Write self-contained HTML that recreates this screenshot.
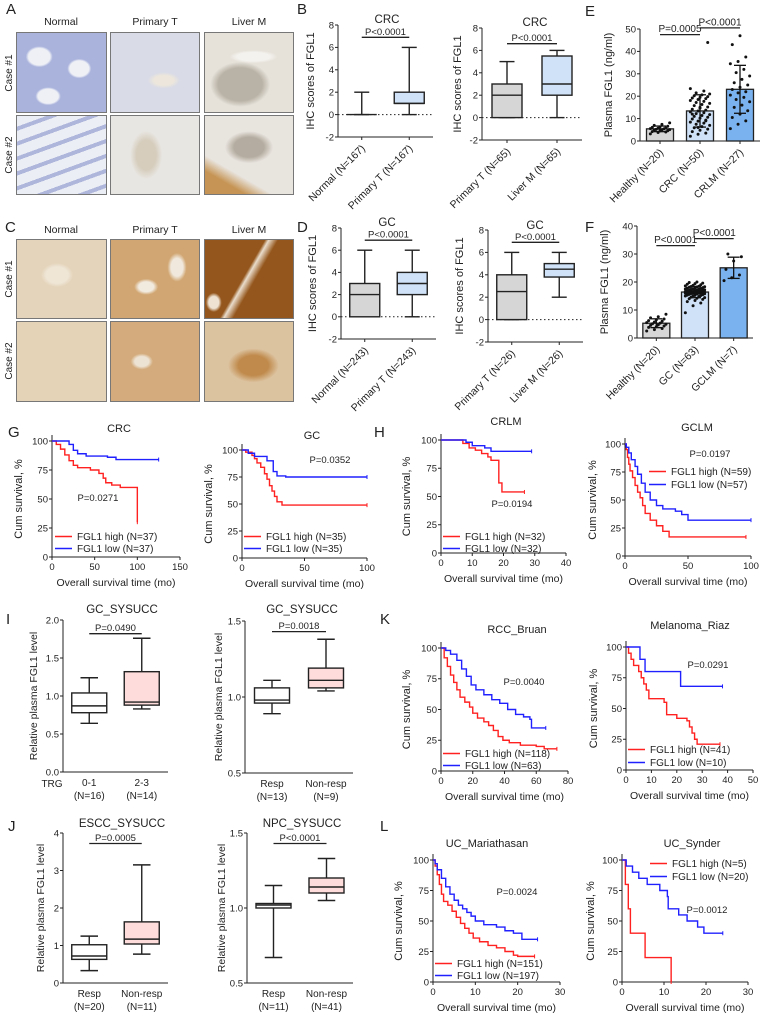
<!DOCTYPE html>
<html><head><meta charset="utf-8">
<style>
html,body{margin:0;padding:0;background:#fff;}
#wrap{position:relative;width:761px;height:1019px;overflow:hidden;font-family:"Liberation Sans",Arial,sans-serif;}
.img{position:absolute;box-sizing:border-box;border:1px solid #777;}
svg{position:absolute;left:0;top:0;}
text{font-family:"Liberation Sans",Arial,sans-serif;fill:#222;}
</style></head>
<body>
<div id="wrap">
<div class="img" style="left:16px;top:32px;width:91px;height:81px;background:radial-gradient(ellipse 18px 14px at 25% 30%,#eef0f6 60%,transparent 75%),radial-gradient(ellipse 16px 13px at 70% 45%,#eef0f6 60%,transparent 75%),radial-gradient(ellipse 17px 12px at 35% 80%,#eef0f6 60%,transparent 75%),#aab3dc;"></div>
<div class="img" style="left:110px;top:32px;width:90px;height:81px;background:radial-gradient(ellipse 20px 10px at 60% 60%,#ece6dc 50%,transparent 80%),#d9dbe6;"></div>
<div class="img" style="left:204px;top:32px;width:90px;height:81px;background:radial-gradient(ellipse 30px 8px at 55% 30%,#f4f2ee 55%,transparent 80%),radial-gradient(ellipse 40px 30px at 40% 65%,#b9b2a6 55%,transparent 75%),#e6e2da;"></div>
<div class="img" style="left:16px;top:115px;width:91px;height:80px;background:repeating-linear-gradient(160deg,#eceef5 0 10px,#aeb6dc 10px 14px),#ccd0e6;"></div>
<div class="img" style="left:110px;top:115px;width:90px;height:80px;background:radial-gradient(ellipse 20px 30px at 40% 50%,#d6cdbd 50%,transparent 80%),#e8e6e2;"></div>
<div class="img" style="left:204px;top:115px;width:90px;height:80px;background:linear-gradient(30deg,#c69556 0 18%,transparent 30%),radial-gradient(ellipse 30px 20px at 50% 40%,#b4aca0 50%,transparent 80%),#e8e4de;"></div>
<div class="img" style="left:16px;top:239px;width:91px;height:80px;background:radial-gradient(ellipse 20px 15px at 45% 45%,#efe6d6 55%,transparent 80%),#e4d4bb;"></div>
<div class="img" style="left:110px;top:239px;width:90px;height:80px;background:radial-gradient(ellipse 15px 10px at 40% 60%,#f1eadf 50%,transparent 80%),radial-gradient(ellipse 12px 18px at 75% 35%,#f0e8dc 50%,transparent 80%),#d1a672;"></div>
<div class="img" style="left:204px;top:239px;width:90px;height:80px;background:linear-gradient(120deg,transparent 45%,#e9dccb 48%,transparent 55%),radial-gradient(ellipse 10px 12px at 10% 80%,#eee2d2 50%,transparent 80%),#94561c;"></div>
<div class="img" style="left:16px;top:321px;width:91px;height:81px;background:#e4d3b7;"></div>
<div class="img" style="left:110px;top:321px;width:90px;height:81px;background:radial-gradient(ellipse 14px 10px at 35% 50%,#ede3d4 50%,transparent 80%),#d3ab7c;"></div>
<div class="img" style="left:204px;top:321px;width:90px;height:81px;background:radial-gradient(ellipse 30px 20px at 55% 55%,#c08a4c 50%,transparent 85%),#dcc3a0;"></div>
<svg id="fig" width="761" height="1019" viewBox="0 0 761 1019"></svg>
</div>
<script>
// ===== DATA =====
const b1Cats=["Normal (N=167)","Primary T (N=167)"];
const b1Boxes=[[0,0,0,0,2],[0,1,1,2,6]];
const b2Cats=["Primary T (N=65)","Liver M (N=65)"];
const b2Boxes=[[0,0,2,3,5],[0,2,3,5.5,6]];
const d1Cats=["Normal (N=243)","Primary T (N=243)"];
const d1Boxes=[[0,0,2,3,6],[0,2,3,4,6]];
const d2Cats=["Primary T (N=26)","Liver M (N=26)"];
const d2Boxes=[[0,0,2.5,4,6],[2,3.8,4.5,5,6]];
const ihcTicks=[-2,0,2,4,6,8];
const eCats=["Healthy (N=20)","CRC (N=50)","CRLM (N=27)"];
const eHealthy=[3.2,3.8,4.0,4.2,4.5,4.6,4.8,5.0,5.1,5.2,5.4,5.5,5.7,5.9,6.1,6.3,6.6,7.0,7.4,8.1];
const eCRC=[2.1,3.0,3.5,4.2,4.8,5.3,5.9,6.4,7.0,7.5,8.0,8.4,8.9,9.3,9.8,10.2,10.6,11.0,11.4,11.8,12.2,12.6,13.0,13.4,13.8,14.2,14.7,15.2,15.8,16.3,16.8,17.2,17.7,18.1,18.5,18.9,19.2,19.5,19.8,20.2,20.6,21.0,21.5,22.3,23.4,6.0,9.0,12.0,15.0,44.0];
const eCRLM=[5.5,7.5,9.0,10.5,12.0,13.5,15.0,16.0,17.5,18.5,19.5,20.5,21.5,22.0,23.0,24.0,25.0,26.0,27.5,29.0,30.5,32.0,34.5,35.5,37.5,43.0,47.0];
const eTicks=[0,10,20,30,40,50];
const fCats=["Healthy (N=20)","GC (N=63)","GCLM (N=7)"];
const fHealthy=[2.5,3.0,3.4,3.8,4.0,4.3,4.5,4.7,4.9,5.1,5.3,5.5,5.7,6.0,6.2,6.5,6.8,7.2,7.6,8.5];
const fGC=[9.0,11.5,12.5,13.0,13.4,13.8,14.0,14.2,14.4,14.6,14.8,15.0,15.1,15.2,15.3,15.4,15.5,15.6,15.7,15.8,15.9,16.0,16.0,16.1,16.1,16.2,16.2,16.3,16.3,16.4,16.4,16.5,16.5,16.6,16.6,16.7,16.8,16.9,17.0,17.0,17.1,17.2,17.3,17.4,17.5,17.6,17.7,17.8,17.9,18.0,18.1,18.2,18.3,18.4,18.5,18.6,18.8,19.0,19.2,19.4,19.6,19.8,20.0];
const fGCLM=[20.5,21.5,22.5,24.5,27.5,29.0,30.0];
const fTicks=[0,10,20,30,40];
const kmTicksY=[0,25,50,75,100];
const gCrcHigh=[[0,100],[5,97],[10,93],[15,88],[20,83],[25,79],[30,77],[45,75],[55,72],[60,68],[63,64],[70,62],[80,60],[100,30],[100,30]];
const gCrcLow=[[0,100],[20,97],[25,92],[30,89],[40,87],[65,86],[75,84],[125,84]];
const gGcHigh=[[0,100],[3,98],[8,95],[10,92],[12,88],[15,84],[18,78],[20,73],[22,67],[24,62],[26,57],[28,52],[32,49],[100,49]];
const gGcLow=[[0,100],[5,97],[10,94],[20,90],[25,80],[28,76],[35,75],[100,75]];
const hCrlmHigh=[[0,100],[7,97],[9,93],[11,91],[13,88],[15,85],[16,82],[18.5,62],[19.5,54],[26.7,54]];
const hCrlmLow=[[0,100],[8,98],[10,95],[14,93],[16,90],[29,90]];
const hGclmHigh=[[0,100],[1,95],[2,88],[3,82],[4,76],[6,70],[8,63],[10,57],[12,52],[14,45],[16,38],[20,32],[25,27],[30,22],[35,17],[96,17]];
const hGclmLow=[[0,100],[1,97],[3,92],[5,86],[8,80],[10,73],[13,65],[16,57],[20,50],[25,45],[30,42],[40,40],[45,37],[50,32],[100,32]];
const kRccHigh=[[0,100],[2,92],[4,85],[6,78],[8,72],[10,66],[12,60],[15,56],[18,52],[20,47],[23,43],[27,40],[30,37],[33,33],[36,28],[39,25],[43,23],[50,21],[60,20],[65,18],[73,18]];
const kRccLow=[[0,100],[3,98],[6,95],[10,90],[13,83],[16,77],[19,70],[22,66],[27,62],[32,58],[37,55],[42,50],[47,46],[52,44],[56,42],[57,35],[66,35]];
const kMelHigh=[[0,100],[1,95],[2,90],[3,85],[5,80],[6,75],[7,70],[8,65],[9,58],[15,55],[16,45],[20,42],[24,40],[25,35],[26,30],[27,25],[28,21],[37,21]];
const kMelLow=[[0,100],[5.5,90],[7.5,80],[21.5,68],[38,68]];
const lUcmHigh=[[0,100],[0.5,95],[1,88],[1.5,80],[2,72],[2.5,66],[3.5,63],[4.5,58],[5.5,53],[6.5,48],[7.5,44],[8.5,40],[9.5,36],[11,33],[13,30],[15,28],[17,25],[19,22],[20,21],[24,21]];
const lUcmLow=[[0,100],[0.5,97],[1,92],[2,85],[3,78],[4,72],[5,67],[6,63],[7,60],[8,57],[9,54],[10,50],[12,47],[15,45],[17,42],[19,40],[21,35],[24.7,35]];
const lSynHigh=[[0,100],[0.8,80],[1.5,60],[2,40],[5.5,20],[11.7,0],[11.7,0]];
const lSynLow=[[0,100],[1,95],[2.5,90],[4,85],[6,80],[9,75],[10.8,70],[11,60],[13.5,55],[15.5,50],[18,45],[19.5,40],[24,40]];
const iCats1=["0-1","2-3"], iN1=["(N=16)","(N=14)"];
const iBoxes1=[[0.64,0.78,0.87,1.04,1.24],[0.83,0.88,0.92,1.32,1.76]];
const iTicks1=[0,0.5,1,1.5,2];
const iCats2=["Resp","Non-resp"], iN2=["(N=13)","(N=9)"];
const iBoxes2=[[0.89,0.96,0.98,1.06,1.11],[1.04,1.06,1.11,1.19,1.38]];
const jN1=["(N=20)","(N=11)"];
const jBoxes1=[[0.33,0.63,0.72,1.02,1.25],[0.77,1.04,1.17,1.63,3.15]];
const jTicks1=[0,1,2,3,4];
const jN2=["(N=11)","(N=41)"];
const jBoxes2=[[0.67,1.0,1.02,1.03,1.15],[1.05,1.1,1.14,1.2,1.33]];
const halfTicks=[0.5,1.0,1.5];

// ===== HELPERS =====
const NS='http://www.w3.org/2000/svg';
const svg=document.getElementById('fig');
function mk(tag,attrs,name,parent){
  const el=document.createElementNS(NS,tag);
  for(const k in attrs) el.setAttribute(k,attrs[k]);
  
  
  (parent||svg).appendChild(el);
  return el;
}
function tx(x,y,s,name,size,anchor,extra){
  const a=Object.assign({x:x,y:y,'font-size':size||10,'text-anchor':anchor||'middle'},extra||{});
  const el=mk('text',a,name);
  el.textContent=s;
  return el;
}
function lin(d0,d1,r0,r1){return v=>r0+(v-d0)*(r1-r0)/(d1-d0);}
function line(x1,y1,x2,y2,name,stroke,w,extra){return mk('line',Object.assign({x1:x1,y1:y1,x2:x2,y2:y2,stroke:stroke||'#222','stroke-width':w||1},extra||{}),name);}
function yAxis(ax,ys,ticks,fmt,yTop,yBot,pre){
  line(ax,yTop,ax,yBot,pre+'-y-axis');
  ticks.forEach(t=>{line(ax-3,ys(t),ax,ys(t),pre+'-y-tick');tx(ax-4,ys(t)+3.3,fmt(t),pre+'-y-tick-label',9.5,'end');});
}
function ylab(x,y,s,pre,size){tx(x,y,s,pre+'-y-axis-title',size||11,'middle',{transform:'rotate(-90 '+x+' '+y+')'});}
function pBracket(x1,x2,y,s,pre,size){line(x1,y,x2,y,pre+'-p-bracket','#222',1.3);tx((x1+x2)/2,y-2.5,s,pre+'-p-value',size||9.5);}

function boxPanel(c){
  const ys=lin(c.dmin,c.dmax,c.yBot,c.yTop);
  const n=c.boxes.length, bw=(c.xEnd-c.ax)/n;
  const xs=i=>c.ax+bw*(i+0.5);
  line(c.ax,c.yBot,c.xEnd,c.yBot,c.pre+'-x-axis');
  yAxis(c.ax,ys,c.ticks,c.fmt,c.yTop,c.yBot,c.pre);
  if(c.zero) line(c.ax,ys(0),c.xEnd,ys(0),c.pre+'-zero-line','#222',1,{'stroke-dasharray':'1.5,2.5'});
  c.boxes.forEach((b,i)=>{
    const x=xs(i), w=c.boxW, cw=w*0.5;
    line(x,ys(b[0]),x,ys(b[1]),c.pre+'-whisker-low','#222',1.4);
    line(x,ys(b[3]),x,ys(b[4]),c.pre+'-whisker-high','#222',1.4);
    line(x-cw/2,ys(b[0]),x+cw/2,ys(b[0]),c.pre+'-cap-low','#222',1.4);
    line(x-cw/2,ys(b[4]),x+cw/2,ys(b[4]),c.pre+'-cap-high','#222',1.4);
    const h=Math.max(ys(b[1])-ys(b[3]),0);
    mk('rect',{x:x-w/2,y:ys(b[3]),width:w,height:h,fill:c.fills[i],stroke:'#222','stroke-width':h<1?2.5:1.4},c.pre+'-box-'+i);
    line(x-w/2,ys(b[2]),x+w/2,ys(b[2]),c.pre+'-median','#222',1.4);
    if(c.rot){
      line(x,c.yBot,x,c.yBot+3,c.pre+'-x-tick');
      tx(x+4,c.yBot+12,c.cats[i],c.pre+'-x-label',10.5,'end',{transform:'rotate(-45 '+(x+4)+' '+(c.yBot+12)+')'});
    } else {
      tx(x,c.yBot+14,c.cats[i],c.pre+'-x-label',10);
      tx(x,c.yBot+27,c.ns[i],c.pre+'-x-n',10);
    }
  });
  if(c.title) tx(c.titleX||xs(0.5),c.titleY,c.title,c.pre+'-title',c.titleSize||11.5);
  pBracket(xs(0),xs(1),ys(c.pY),c.p,c.pre,c.pSize);
  ylab(c.ylx,(c.yTop+c.yBot)/2,c.ylabel,c.pre,c.ylSize);
}

function barPanel(c){
  const ys=lin(0,c.dmax,c.yBot,c.yTop);
  const n=c.sets.length, bw=(c.xEnd-c.ax)/n;
  const xs=i=>c.ax+bw*(i+0.5);
  line(c.ax,c.yBot,c.xEnd,c.yBot,c.pre+'-x-axis');
  yAxis(c.ax,ys,c.ticks,t=>String(t),c.yTop,c.yBot,c.pre);
  c.sets.forEach((d,i)=>{
    const x=xs(i), m=d.reduce((a,b)=>a+b,0)/d.length;
    const sd=Math.sqrt(d.reduce((a,b)=>a+(b-m)*(b-m),0)/(d.length-1));
    mk('rect',{x:x-c.barW/2,y:ys(m),width:c.barW,height:c.yBot-ys(m),fill:c.fills[i],stroke:'#222','stroke-width':1.3},c.pre+'-bar-'+i);
    d.forEach((v,j)=>{
      const jit=(((j*37)%11)-5)*c.barW/14;
      mk('circle',{cx:x+jit,cy:ys(v),r:1.5,fill:'#111'},c.pre+'-point');
    });
    line(x,ys(m+sd),x,ys(Math.max(m-sd,0)),c.pre+'-error-bar','#111',1.3);
    line(x-6,ys(m+sd),x+6,ys(m+sd),c.pre+'-error-cap','#111',1.3);
    line(x-6,ys(Math.max(m-sd,0)),x+6,ys(Math.max(m-sd,0)),c.pre+'-error-cap','#111',1.3);
    line(x,c.yBot,x,c.yBot+3,c.pre+'-x-tick');
    tx(x+4,c.yBot+12,c.cats[i],c.pre+'-x-label',10.5,'end',{transform:'rotate(-45 '+(x+4)+' '+(c.yBot+12)+')'});
  });
  c.ps.forEach(p=>pBracket(xs(p[0]),xs(p[1]),ys(p[2]),p[3],c.pre,10));
  ylab(c.ylx,(c.yTop+c.yBot)/2,'Plasma FGL1 (ng/ml)',c.pre,11);
}

function km(c){
  const xs=lin(0,c.tmax,c.ax,c.xEnd), ys=lin(0,100,c.yBot,c.yTop);
  line(c.ax,c.yBot,c.xEnd,c.yBot,c.pre+'-x-axis');
  yAxis(c.ax,ys,kmTicksY,t=>String(t),c.yTop-6,c.yBot,c.pre);
  c.xticks.forEach(t=>{line(xs(t),c.yBot,xs(t),c.yBot+3,c.pre+'-x-tick');tx(xs(t),c.yBot+13,String(t),c.pre+'-x-tick-label',9.5);});
  tx((c.ax+c.xEnd)/2,c.yBot+29,'Overall survival time (mo)',c.pre+'-x-axis-title',10.5);
  ylab(c.ylx,(c.yTop+c.yBot)/2,'Cum survival, %',c.pre,11);
  [[c.high,'#ff2020','high'],[c.low,'#2020ff','low']].forEach(s=>{
    const d=s[0];
    let p='M'+xs(d[0][0])+' '+ys(d[0][1]);
    for(let i=1;i<d.length;i++){p+=' H'+xs(d[i][0])+' V'+ys(d[i][1]);}
    mk('path',{d:p,fill:'none',stroke:s[1],'stroke-width':1.4},c.pre+'-curve-'+s[2]);
    const last=d[d.length-1];
    mk('line',{x1:xs(last[0]),y1:ys(last[1])-2,x2:xs(last[0]),y2:ys(last[1])+2,stroke:s[1],'stroke-width':1},c.pre+'-censor-'+s[2]);
  });
  tx(c.title[1],c.title[2],c.title[0],c.pre+'-title',11);
  tx(c.p[1],c.p[2],c.p[0],c.pre+'-p-value',9.5);
  c.leg.forEach((L,i)=>{
    const col=i===0?'#ff2020':'#2020ff';
    line(L[1],L[2]-3.5,L[1]+17,L[2]-3.5,c.pre+'-legend-line',col,1.4);
    tx(L[1]+22,L[2],L[0],c.pre+'-legend-entry',10,'start');
  });
}

// ===== LETTERS / HEADERS =====
[['A',6,14],['B',297,14],['E',585,16],['C',5,232],['D',297,232],['F',585,232],['G',8,437],['H',374,437],['I',6,624],['K',380,624],['J',8,831],['L',380,831]]
.forEach(l=>tx(l[1],l[2],l[0],'panel-label-'+l[0].toLowerCase(),15,'start'));
[[61,25],[155,25],[249,25]].forEach((p,i)=>tx(p[0],p[1],['Normal','Primary T','Liver M'][i],'panel-a-column-header',10.5));
[[61,233],[155,233],[249,233]].forEach((p,i)=>tx(p[0],p[1],['Normal','Primary T','Liver M'][i],'panel-c-column-header',10.5));
[[12,73,'Case #1'],[12,155,'Case #2'],[12,279,'Case #1'],[12,361,'Case #2']].forEach(p=>tx(p[0],p[1],p[2],'case-label',10,'middle',{transform:'rotate(-90 '+p[0]+' '+p[1]+')'}));

// ===== B / D =====
const f0=t=>String(t);
boxPanel({pre:'b1',ax:338,xEnd:433,yTop:25,yBot:137,dmin:-2,dmax:8,ticks:ihcTicks,fmt:f0,boxes:b1Boxes,fills:['#fff','#cfe2f7'],cats:b1Cats,rot:true,zero:true,boxW:30,title:'CRC',titleX:387,titleY:23,p:'P<0.0001',pY:6.9,ylabel:'IHC scores of FGL1',ylx:314});
boxPanel({pre:'b2',ax:482,xEnd:582,yTop:28,yBot:140,dmin:-2,dmax:8,ticks:ihcTicks,fmt:f0,boxes:b2Boxes,fills:['#d6d6d6','#cfe2f7'],cats:b2Cats,rot:true,zero:true,boxW:30,title:'CRC',titleX:535,titleY:26,p:'P<0.0001',pY:6.6,ylabel:'IHC scores of FGL1',ylx:461});
boxPanel({pre:'d1',ax:341,xEnd:436,yTop:228,yBot:339,dmin:-2,dmax:8,ticks:ihcTicks,fmt:f0,boxes:d1Boxes,fills:['#d6d6d6','#cfe2f7'],cats:d1Cats,rot:true,zero:true,boxW:30,title:'GC',titleX:387,titleY:226,p:'P<0.0001',pY:6.9,ylabel:'IHC scores of FGL1',ylx:316});
boxPanel({pre:'d2',ax:488,xEnd:583,yTop:230,yBot:342,dmin:-2,dmax:8,ticks:ihcTicks,fmt:f0,boxes:d2Boxes,fills:['#d6d6d6','#cfe2f7'],cats:d2Cats,rot:true,zero:true,boxW:30,title:'GC',titleX:535,titleY:229,p:'P<0.0001',pY:6.9,ylabel:'IHC scores of FGL1',ylx:463});

// ===== E / F =====
barPanel({pre:'e',ax:640,xEnd:760,yTop:29,yBot:141,dmax:50,ticks:eTicks,sets:[eHealthy,eCRC,eCRLM],fills:['#d6d6d6','#cfe2f7','#79b2ee'],cats:eCats,barW:27,ylx:612,ps:[[0,1,47.5,'P=0.0005'],[1,2,50.5,'P<0.0001']]});
barPanel({pre:'f',ax:637,xEnd:753,yTop:226,yBot:338,dmax:40,ticks:fTicks,sets:[fHealthy,fGC,fGCLM],fills:['#d6d6d6','#cfe2f7','#79b2ee'],cats:fCats,barW:27,ylx:608,ps:[[0,1,33,'P<0.0001'],[1,2,35.5,'P<0.0001']]});

// ===== G / H =====
km({pre:'g1',ax:52,xEnd:180,tmax:150,yTop:441,yBot:557,xticks:[0,50,100,150],high:gCrcHigh,low:gCrcLow,title:['CRC',119,432],p:['P=0.0271',98,501],ylx:22,leg:[['FGL1 high (N=37)',55,540],['FGL1 low (N=37)',55,552]]});
km({pre:'g2',ax:242,xEnd:367,tmax:100,yTop:450,yBot:558,xticks:[0,50,100],high:gGcHigh,low:gGcLow,title:['GC',312,439],p:['P=0.0352',330,463],ylx:212,leg:[['FGL1 high (N=35)',244,540],['FGL1 low (N=35)',244,552]]});
km({pre:'h1',ax:441,xEnd:566,tmax:40,yTop:440,yBot:553,xticks:[0,10,20,30,40],high:hCrlmHigh,low:hCrlmLow,title:['CRLM',506,425],p:['P=0.0194',512,507],ylx:410,leg:[['FGL1 high (N=32)',443,540],['FGL1 low (N=32)',443,552]]});
km({pre:'h2',ax:625,xEnd:751,tmax:100,yTop:444,yBot:556,xticks:[0,50,100],high:hGclmHigh,low:hGclmLow,title:['GCLM',697,431],p:['P=0.0197',710,457],ylx:596,leg:[['FGL1 high (N=59)',649,475],['FGL1 low (N=57)',649,488]]});

// ===== I / J =====
boxPanel({pre:'i1',ax:63,xEnd:168,yTop:620,yBot:772,dmin:0,dmax:2,ticks:iTicks1,fmt:t=>t.toFixed(1),boxes:iBoxes1,fills:['#fff','#ffdcdc'],cats:iCats1,ns:iN1,boxW:35,title:'GC_SYSUCC',titleX:122,titleY:613,p:'P=0.0490',pY:1.82,pSize:9.5,ylabel:'Relative plasma FGL1 level',ylx:37,ylSize:10.5});
tx(52,787,'TRG','i1-trg-label',10);
boxPanel({pre:'i2',ax:245,xEnd:353,yTop:621,yBot:773,dmin:0.5,dmax:1.5,ticks:halfTicks,fmt:t=>t.toFixed(1),boxes:iBoxes2,fills:['#fff','#ffdcdc'],cats:iCats2,ns:iN2,boxW:35,title:'GC_SYSUCC',titleX:302,titleY:613,p:'P=0.0018',pY:1.43,ylabel:'Relative plasma FGL1 level',ylx:222,ylSize:10.5});
boxPanel({pre:'j1',ax:63,xEnd:168,yTop:833,yBot:983,dmin:0,dmax:4,ticks:jTicks1,fmt:f0,boxes:jBoxes1,fills:['#fff','#ffdcdc'],cats:iCats2,ns:jN1,boxW:35,title:'ESCC_SYSUCC',titleX:122,titleY:827,p:'P=0.0005',pY:3.72,ylabel:'Relative plasma FGL1 level',ylx:44,ylSize:10.5});
boxPanel({pre:'j2',ax:247,xEnd:353,yTop:833,yBot:983,dmin:0.5,dmax:1.5,ticks:halfTicks,fmt:t=>t.toFixed(1),boxes:jBoxes2,fills:['#fff','#ffdcdc'],cats:iCats2,ns:jN2,boxW:35,title:'NPC_SYSUCC',titleX:302,titleY:827,p:'P<0.0001',pY:1.43,ylabel:'Relative plasma FGL1 level',ylx:225,ylSize:10.5});

// ===== K / L =====
km({pre:'k1',ax:441,xEnd:568,tmax:80,yTop:648,yBot:771,xticks:[0,20,40,60,80],high:kRccHigh,low:kRccLow,title:['RCC_Bruan',517,633],p:['P=0.0040',524,685],ylx:410,leg:[['FGL1 high (N=118)',443,757],['FGL1 low (N=63)',443,769]]});
km({pre:'k2',ax:626,xEnd:753,tmax:50,yTop:647,yBot:770,xticks:[0,10,20,30,40,50],high:kMelHigh,low:kMelLow,title:['Melanoma_Riaz',690,629],p:['P=0.0291',708,668],ylx:597,leg:[['FGL1 high (N=41)',628,753],['FGL1 low (N=10)',628,766]]});
km({pre:'l1',ax:433,xEnd:560,tmax:30,yTop:860,yBot:982,xticks:[0,10,20,30],high:lUcmHigh,low:lUcmLow,title:['UC_Mariathasan',487,847],p:['P=0.0024',517,895],ylx:402,leg:[['FGL1 high (N=151)',435,967],['FGL1 low (N=197)',435,979]]});
km({pre:'l2',ax:622,xEnd:748,tmax:30,yTop:860,yBot:982,xticks:[0,10,20,30],high:lSynHigh,low:lSynLow,title:['UC_Synder',692,847],p:['P=0.0012',707,913],ylx:594,leg:[['FGL1 high (N=5)',650,867],['FGL1 low (N=20)',650,880]]});
</script>
</body></html>
